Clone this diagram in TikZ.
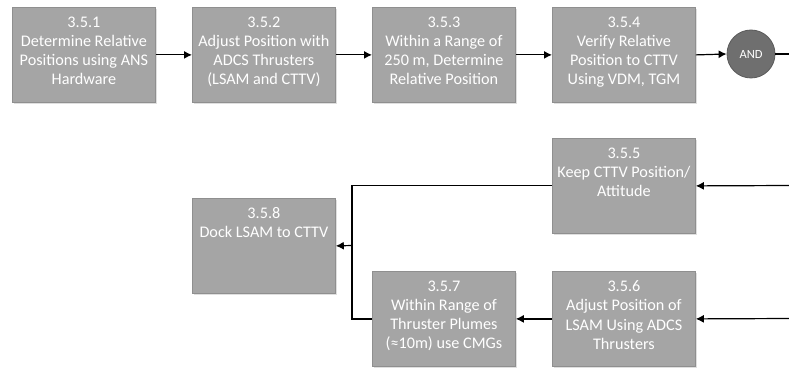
\documentclass[tikz,border=0pt]{standalone}
\usepackage{fontspec}
\setmainfont{Carlito}
\usetikzlibrary{arrows.meta,shadows}
\definecolor{boxfill}{HTML}{A5A5A5}
\definecolor{boxline}{HTML}{8F8F8F}
\definecolor{andfill}{HTML}{6F6F6F}
\definecolor{andline}{HTML}{5A5A5A}
\tikzset{
  stepbox/.style={rectangle, fill=boxfill, draw=boxline, line width=0.8pt,
    minimum width=143pt, minimum height=95pt, inner sep=0pt, anchor=north west,
    drop shadow={shadow xshift=1.5pt, shadow yshift=-1.5pt, opacity=0.25, fill=gray}},
  boxtext/.style={anchor=north, inner sep=0pt, text=white, align=center,
    font={\fontsize{16.2}{19.2}\selectfont}, yshift=-9.5pt},
  andnode/.style={circle, fill=andfill, draw=andline, line width=0.8pt,
    minimum size=48pt, inner sep=0pt, text=white, font={\fontsize{12.5}{14}\selectfont}},
  arr/.style={draw=black, line width=1.2pt, -{Latex[length=8pt,width=8pt]}},
  ln/.style={draw=black, line width=1.2pt}
}
\begin{document}
\begin{tikzpicture}[x=1pt,y=-1pt]
\useasboundingbox[fill=white] (0,0) rectangle (789,371);
% top row
\node[stepbox] (b1) at (12,7) {};
\node[stepbox] (b2) at (192,7) {};
\node[stepbox] (b3) at (372,7) {};
\node[stepbox] (b4) at (552,7) {};
\node[andnode] (and) at (751,54) {AND};
\node[boxtext] (t1) at (b1.north) {3.5.1\\Determine Relative\\Positions using ANS\\Hardware};
\node[boxtext] (t2) at (b2.north) {3.5.2\\Adjust Position with\\ADCS Thrusters\\(LSAM and CTTV)};
\node[boxtext] (t3) at (b3.north) {3.5.3\\Within a Range of\\250 m, Determine\\Relative Position};
\node[boxtext] (t4) at (b4.north) {3.5.4\\Verify Relative\\Position to CTTV\\Using VDM, TGM};
% bottom
\node[stepbox] (b5) at (552,138) {};
\node[stepbox] (b6) at (552,271) {};
\node[stepbox] (b7) at (372,271) {};
\node[stepbox] (b8) at (192,198) {};
\node[boxtext] (t5) at (b5.north) {3.5.5\\Keep CTTV Position/\\Attitude};
\node[boxtext] (t6) at (b6.north) {3.5.6\\Adjust Position of\\LSAM Using ADCS\\Thrusters};
\node[boxtext] (t7) at (b7.north) {3.5.7\\Within Range of\\Thruster Plumes\\(≈10m) use CMGs};
\node[boxtext] (t8) at (b8.north) {3.5.8\\Dock LSAM to CTTV};
% coordinates
\coordinate (andout) at (790,54);
\coordinate (in5) at (790,185.5);
\coordinate (in6) at (790,318.5);
\coordinate (j) at (352,245.5);
% connectors
\draw[arr] (b1.east) -- (b2.west);
\draw[arr] (b2.east) -- (b3.west);
\draw[arr] (b3.east) -- (b4.west);
\draw[arr] (b4.east) -- (and.west);
\draw[ln] (and.east) -- (andout);
\draw[arr] (in5) -- (b5.east);
\draw[arr] (in6) -- (b6.east);
\draw[arr] (b6.west) -- (b7.east);
\draw[ln] (b5.west) -| (j) |- (b7.west);
\draw[arr] (j) -- (b8.east);
\end{tikzpicture}
\end{document}
